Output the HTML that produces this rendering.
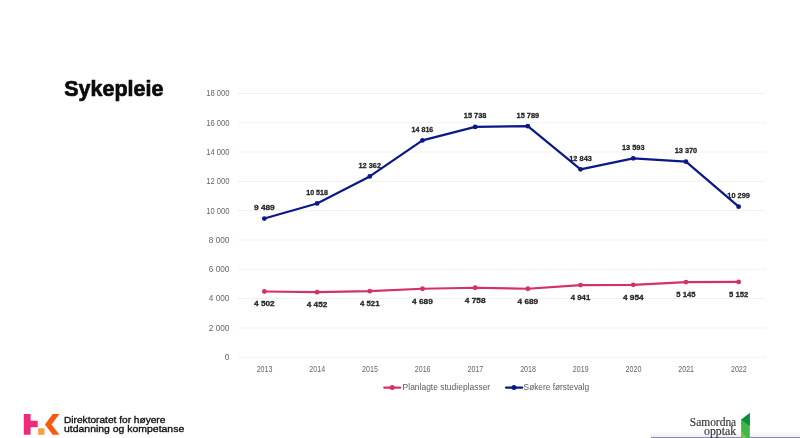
<!DOCTYPE html>
<html lang="no"><head><meta charset="utf-8"><title>Sykepleie</title>
<style>
html,body{margin:0;padding:0;background:#fff;}
body{width:800px;height:438px;overflow:hidden;position:relative;font-family:"Liberation Sans",sans-serif;}
svg{position:absolute;left:0;top:0;display:block;}
text{font-family:"Liberation Sans",sans-serif;}
.ax{font-size:8.5px;fill:#666666;}
.dl{font-size:8.1px;font-weight:bold;fill:#262626;stroke:#262626;stroke-width:0.3px;}
.lg{font-size:8.8px;fill:#5a5a5a;}
.ttl{font-size:21.6px;font-weight:bold;fill:#0b0b0b;stroke:#0b0b0b;stroke-width:0.7px;stroke-linejoin:round;}
.ft{font-size:9.5px;fill:#111111;stroke:#111111;stroke-width:0.34px;}
.so{font-family:"Liberation Serif",serif;font-size:12.4px;fill:#333333;stroke:#333333;stroke-width:0.15px;}
</style></head><body>
<svg width="800" height="438" viewBox="0 0 800 438">
<rect width="800" height="438" fill="#ffffff"/>

<g stroke="#f2f2f2" stroke-width="1.1">
<line x1="238.0" y1="357.30" x2="766.0" y2="357.30"/>
<line x1="238.0" y1="327.97" x2="766.0" y2="327.97"/>
<line x1="238.0" y1="298.64" x2="766.0" y2="298.64"/>
<line x1="238.0" y1="269.32" x2="766.0" y2="269.32"/>
<line x1="238.0" y1="239.99" x2="766.0" y2="239.99"/>
<line x1="238.0" y1="210.66" x2="766.0" y2="210.66"/>
<line x1="238.0" y1="181.33" x2="766.0" y2="181.33"/>
<line x1="238.0" y1="152.01" x2="766.0" y2="152.01"/>
<line x1="238.0" y1="122.68" x2="766.0" y2="122.68"/>
<line x1="238.0" y1="93.35" x2="766.0" y2="93.35"/>
</g>
<g class="ax" text-anchor="end">
<text x="229.4" y="360.15" textLength="4.7" lengthAdjust="spacingAndGlyphs">0</text>
<text x="229.4" y="330.82" textLength="20.6" lengthAdjust="spacingAndGlyphs">2 000</text>
<text x="229.4" y="301.49" textLength="20.6" lengthAdjust="spacingAndGlyphs">4 000</text>
<text x="229.4" y="272.17" textLength="20.6" lengthAdjust="spacingAndGlyphs">6 000</text>
<text x="229.4" y="242.84" textLength="20.6" lengthAdjust="spacingAndGlyphs">8 000</text>
<text x="229.4" y="213.51" textLength="23.1" lengthAdjust="spacingAndGlyphs">10 000</text>
<text x="229.4" y="184.18" textLength="23.1" lengthAdjust="spacingAndGlyphs">12 000</text>
<text x="229.4" y="154.86" textLength="23.1" lengthAdjust="spacingAndGlyphs">14 000</text>
<text x="229.4" y="125.53" textLength="23.1" lengthAdjust="spacingAndGlyphs">16 000</text>
<text x="229.4" y="96.20" textLength="23.1" lengthAdjust="spacingAndGlyphs">18 000</text>
</g>
<g class="ax" text-anchor="middle">
<text x="264.55" y="372.1" textLength="15.8" lengthAdjust="spacingAndGlyphs">2013</text>
<text x="317.25" y="372.1" textLength="15.8" lengthAdjust="spacingAndGlyphs">2014</text>
<text x="369.95" y="372.1" textLength="15.8" lengthAdjust="spacingAndGlyphs">2015</text>
<text x="422.65" y="372.1" textLength="15.8" lengthAdjust="spacingAndGlyphs">2016</text>
<text x="475.35" y="372.1" textLength="15.8" lengthAdjust="spacingAndGlyphs">2017</text>
<text x="528.05" y="372.1" textLength="15.8" lengthAdjust="spacingAndGlyphs">2018</text>
<text x="580.75" y="372.1" textLength="15.8" lengthAdjust="spacingAndGlyphs">2019</text>
<text x="633.45" y="372.1" textLength="15.8" lengthAdjust="spacingAndGlyphs">2020</text>
<text x="686.15" y="372.1" textLength="15.8" lengthAdjust="spacingAndGlyphs">2021</text>
<text x="738.85" y="372.1" textLength="15.8" lengthAdjust="spacingAndGlyphs">2022</text>
</g>
<g class="dl" text-anchor="middle">
<text x="264.35" y="209.95" textLength="20.7" lengthAdjust="spacingAndGlyphs">9 489</text>
<text x="317.05" y="194.87" textLength="21.7" lengthAdjust="spacingAndGlyphs">10 518</text>
<text x="369.75" y="167.83" textLength="22.6" lengthAdjust="spacingAndGlyphs">12 362</text>
<text x="422.45" y="131.84" textLength="21.7" lengthAdjust="spacingAndGlyphs">14 816</text>
<text x="475.15" y="118.32" textLength="22.6" lengthAdjust="spacingAndGlyphs">15 738</text>
<text x="527.85" y="117.57" textLength="22.6" lengthAdjust="spacingAndGlyphs">15 789</text>
<text x="580.55" y="160.77" textLength="22.6" lengthAdjust="spacingAndGlyphs">12 843</text>
<text x="633.25" y="149.77" textLength="22.6" lengthAdjust="spacingAndGlyphs">13 593</text>
<text x="685.95" y="153.04" textLength="22.6" lengthAdjust="spacingAndGlyphs">13 370</text>
<text x="738.65" y="198.08" textLength="22.6" lengthAdjust="spacingAndGlyphs">10 299</text>
<text x="264.35" y="306.48" textLength="20.7" lengthAdjust="spacingAndGlyphs">4 502</text>
<text x="317.05" y="307.22" textLength="20.7" lengthAdjust="spacingAndGlyphs">4 452</text>
<text x="369.75" y="306.20" textLength="19.6" lengthAdjust="spacingAndGlyphs">4 521</text>
<text x="422.45" y="303.74" textLength="20.7" lengthAdjust="spacingAndGlyphs">4 689</text>
<text x="475.15" y="302.73" textLength="20.7" lengthAdjust="spacingAndGlyphs">4 758</text>
<text x="527.85" y="303.74" textLength="20.7" lengthAdjust="spacingAndGlyphs">4 689</text>
<text x="580.55" y="300.05" textLength="19.4" lengthAdjust="spacingAndGlyphs">4 941</text>
<text x="633.25" y="299.86" textLength="20.7" lengthAdjust="spacingAndGlyphs">4 954</text>
<text x="685.95" y="297.05" textLength="19.2" lengthAdjust="spacingAndGlyphs">5 145</text>
<text x="738.65" y="296.95" textLength="19.2" lengthAdjust="spacingAndGlyphs">5 152</text>
</g>
<polyline points="264.35,291.48 317.05,292.22 369.75,291.20 422.45,288.74 475.15,287.73 527.85,288.74 580.55,285.05 633.25,284.86 685.95,282.05 738.65,281.95" fill="none" stroke="#d3306c" stroke-width="2.2" stroke-linejoin="round" stroke-linecap="round"/>
<g fill="#d3306c">
<circle cx="264.35" cy="291.48" r="2.4"/>
<circle cx="317.05" cy="292.22" r="2.4"/>
<circle cx="369.75" cy="291.20" r="2.4"/>
<circle cx="422.45" cy="288.74" r="2.4"/>
<circle cx="475.15" cy="287.73" r="2.4"/>
<circle cx="527.85" cy="288.74" r="2.4"/>
<circle cx="580.55" cy="285.05" r="2.4"/>
<circle cx="633.25" cy="284.86" r="2.4"/>
<circle cx="685.95" cy="282.05" r="2.4"/>
<circle cx="738.65" cy="281.95" r="2.4"/>
</g>
<polyline points="264.35,218.55 317.05,203.47 369.75,176.43 422.45,140.44 475.15,126.92 527.85,126.17 580.55,169.37 633.25,158.37 685.95,161.64 738.65,206.68" fill="none" stroke="#0a1985" stroke-width="2.2" stroke-linejoin="round" stroke-linecap="round"/>
<g fill="#0a1985">
<circle cx="264.35" cy="218.55" r="2.4"/>
<circle cx="317.05" cy="203.47" r="2.4"/>
<circle cx="369.75" cy="176.43" r="2.4"/>
<circle cx="422.45" cy="140.44" r="2.4"/>
<circle cx="475.15" cy="126.92" r="2.4"/>
<circle cx="527.85" cy="126.17" r="2.4"/>
<circle cx="580.55" cy="169.37" r="2.4"/>
<circle cx="633.25" cy="158.37" r="2.4"/>
<circle cx="685.95" cy="161.64" r="2.4"/>
<circle cx="738.65" cy="206.68" r="2.4"/>
</g>
<line x1="384.2" y1="387.6" x2="400.2" y2="387.6" stroke="#d3306c" stroke-width="2.1" stroke-linecap="round"/><circle cx="392.2" cy="387.6" r="2.5" fill="#d3306c"/>
<text class="lg" x="402.6" y="390.3" textLength="87.6" lengthAdjust="spacingAndGlyphs">Planlagte studieplasser</text>
<line x1="506" y1="387.6" x2="522.4" y2="387.6" stroke="#0a1985" stroke-width="2.1" stroke-linecap="round"/><circle cx="514" cy="387.6" r="2.5" fill="#0a1985"/>
<text class="lg" x="523.6" y="390.3" textLength="65.6" lengthAdjust="spacingAndGlyphs">Søkere førstevalg</text>
<text class="ttl" x="64.2" y="96.4" textLength="99.2" lengthAdjust="spacingAndGlyphs">Sykepleie</text>
<g>
<path d="M23.8 414h6.8v6.7h7.1v6.5h-7.1v7.65h-6.8z" fill="#ee2a7b"/>
<rect x="38.15" y="428.3" width="6.3" height="6.55" fill="#f9a03f"/>
<path d="M52.7 414h6.7l-7.85 10.4 7.85 10.45h-6.7l-7.75-10.45z" fill="#f8590d"/>
</g>
<text class="ft" x="64.0" y="422.8" textLength="101.4" lengthAdjust="spacingAndGlyphs">Direktoratet for høyere</text>
<text class="ft" x="64.0" y="432.4" textLength="120.2" lengthAdjust="spacingAndGlyphs">utdanning og kompetanse</text>
<defs><linearGradient id="glow" x1="0" y1="0" x2="0" y2="1"><stop offset="0" stop-color="#f3f1ee" stop-opacity="0"/><stop offset="0.5" stop-color="#f6f4f3" stop-opacity="0.8"/><stop offset="1" stop-color="#eceafa" stop-opacity="1"/></linearGradient></defs>
<rect x="650" y="431.5" width="150" height="5.5" fill="url(#glow)"/>
<rect x="651" y="437" width="149" height="1" fill="#8b89b0"/>
<text class="so" x="736.2" y="425.5" text-anchor="end" textLength="46.4" lengthAdjust="spacingAndGlyphs">Samordna</text>
<text class="so" x="736.2" y="434.8" text-anchor="end" textLength="32.2" lengthAdjust="spacingAndGlyphs">opptak</text>
<g>
<polygon points="749.8,413 741.1,419.7 741.1,438 749.8,438" fill="#3fb54a"/>
<polygon points="749.8,413 741.1,419.7 749.8,426" fill="#0a8f3c"/>
<polygon points="741.1,429.5 746.5,438 741.1,438" fill="#72c44c"/>
</g>
</svg>
</body></html>
